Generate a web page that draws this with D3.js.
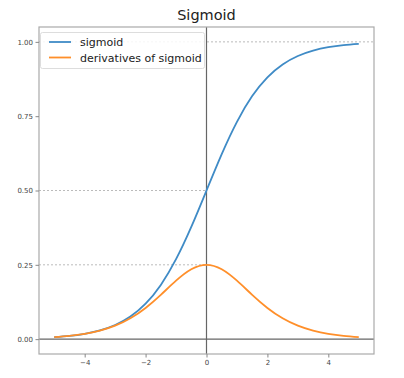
<!DOCTYPE html>
<html><head><meta charset="utf-8">
<script src="https://cdn.jsdelivr.net/npm/d3@7"></script>
<style>body{margin:0;background:#fff}svg{display:block}text{font-family:"DejaVu Sans",sans-serif}</style>
</head><body>
<svg id="c" width="404" height="378"></svg>
<script>
const xs = [-5,-4.5,-4,-3.5,-3,-2.5,-2,-1.5,-1,-0.5,0,0.5,1,1.5,2,2.5,3,3.5,4,4.5,5];
const sigmoidVals = [0.0067,0.0110,0.0180,0.0293,0.0474,0.0759,0.1192,0.1824,0.2689,0.3775,0.5,0.6225,0.7311,0.8176,0.8808,0.9241,0.9526,0.9707,0.9820,0.9890,0.9933];
const derivVals = [0.0066,0.0109,0.0177,0.0285,0.0452,0.0701,0.1050,0.1491,0.1966,0.2350,0.25,0.2350,0.1966,0.1491,0.1050,0.0701,0.0452,0.0285,0.0177,0.0109,0.0066];
const xTicks = [-4,-2,0,2,4];
const yTicks = [0,0.25,0.5,0.75,1];
const seriesNames = ["sigmoid","derivatives of sigmoid"];
const colors = ["#3f8bc6","#ff8f2a"];

const svg = d3.select("#c");
const L=39,R=374,T=27,B=354;
const x = d3.scaleLinear().domain([-5.5,5.5]).range([L,R]);
const y = d3.scaleLinear().domain([-0.05,1.05]).range([B,T]);

svg.append("text").attr("x",(L+R)/2).attr("y",20).attr("text-anchor","middle")
  .attr("font-size",14.5).attr("fill","#222").text("Sigmoid");

// dotted reference lines
const dot = svg.append("g").attr("stroke","#bbb").attr("stroke-width",1).attr("stroke-dasharray","2,2");
dot.append("line").attr("x1",L).attr("x2",R).attr("y1",y(1)).attr("y2",y(1));
dot.append("line").attr("x1",L).attr("x2",x(0)).attr("y1",y(0.5)).attr("y2",y(0.5));
dot.append("line").attr("x1",L).attr("x2",x(0)).attr("y1",y(0.25)).attr("y2",y(0.25));

// axes lines at zero
svg.append("line").attr("x1",x(0)).attr("x2",x(0)).attr("y1",T).attr("y2",B).attr("stroke","#666").attr("stroke-width",1.2);
svg.append("line").attr("x1",L).attr("x2",R).attr("y1",y(0)).attr("y2",y(0)).attr("stroke","#666").attr("stroke-width",1.2);

const line = d3.line().curve(d3.curveNatural);
const series=[sigmoidVals,derivVals];
series.forEach((vals,i)=>{
  svg.append("path").attr("d",line(xs.map((v,j)=>[x(v),y(vals[j])])))
    .attr("fill","none").attr("stroke",colors[i]).attr("stroke-width",1.8);
});

// frame
svg.append("rect").attr("x",L).attr("y",T).attr("width",R-L).attr("height",B-T)
  .attr("fill","none").attr("stroke","#aaa").attr("stroke-width",1.2);

// axes
const xa = svg.append("g").attr("transform",`translate(0,${B})`)
  .call(d3.axisBottom(x).tickValues(xTicks).tickSize(3.5).tickPadding(3).tickFormat(d=>d<0?"\u2212"+Math.abs(d):d));
const ya = svg.append("g").attr("transform",`translate(${L},0)`)
  .call(d3.axisLeft(y).tickValues(yTicks).tickSize(3.5).tickPadding(2.5).tickFormat(d3.format(".2f")));
[xa,ya].forEach(a=>{
  a.select(".domain").remove();
  a.selectAll(".tick line").attr("stroke","#888");
  a.selectAll("text").attr("font-size",7).attr("fill","#444").attr("font-family","DejaVu Sans, sans-serif");
});

// legend
const lg = svg.append("g");
lg.append("rect").attr("x",40.5).attr("y",32.5).attr("width",164).attr("height",36).attr("rx",2)
  .attr("fill","#fff").attr("fill-opacity",0.85).attr("stroke","#ddd");
seriesNames.forEach((n,i)=>{
  const cy=42+i*15.5;
  lg.append("line").attr("x1",49).attr("x2",71).attr("y1",cy).attr("y2",cy).attr("stroke",colors[i]).attr("stroke-width",1.8);
  lg.append("text").attr("x",80).attr("y",cy+4).attr("font-size",11).attr("fill","#222").text(n);
});
</script>
</body></html>
